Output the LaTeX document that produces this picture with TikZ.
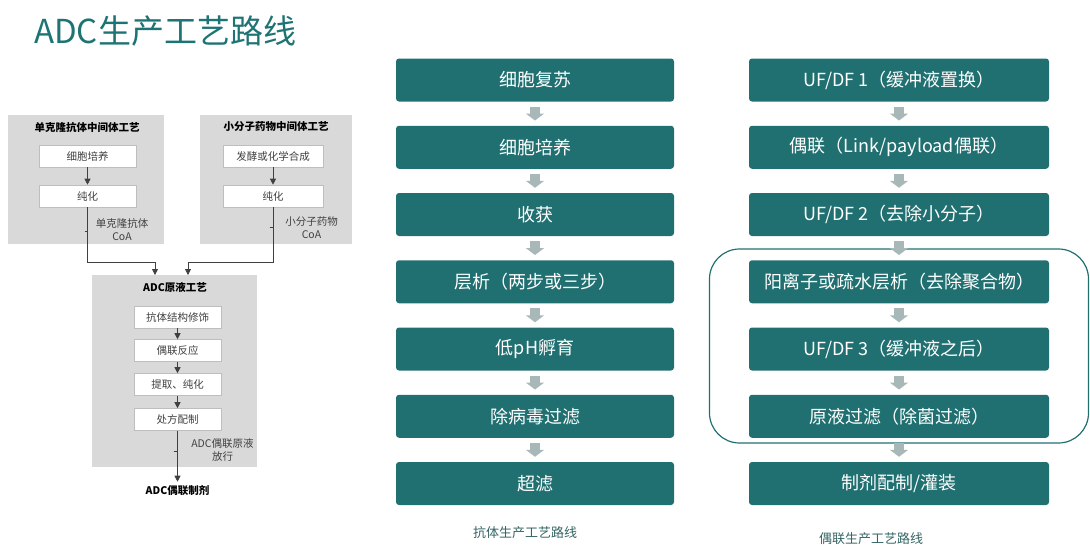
\documentclass[tikz,border=0pt]{standalone}
\usepackage{fontspec}
\setmainfont{Noto Sans CJK SC}
\usetikzlibrary{arrows.meta}
\definecolor{tealbox}{RGB}{33,112,113}
\definecolor{titleteal}{RGB}{30,115,116}
\definecolor{arrowgray}{RGB}{168,184,184}
\definecolor{panelgray}{RGB}{217,217,217}
\definecolor{wborder}{RGB}{190,190,190}
\definecolor{linegray}{RGB}{64,64,64}
\definecolor{captionteal}{RGB}{52,100,101}
\begin{document}
\begin{tikzpicture}[x=1pt,y=-1pt,
  mainbox/.style={fill=tealbox, rounded corners=3pt, minimum height=43pt, inner sep=0pt,
    text=white, font=\fontsize{18}{20}\selectfont},
  midbox/.style={mainbox, minimum width=278pt},
  rightbox/.style={mainbox, minimum width=300pt},
  blockarrow/.style={draw=arrowgray, line width=10pt, shorten <=5pt, shorten >=5pt,
    -{Triangle[width=18pt,length=7pt]}},
  panel/.style={fill=panelgray, inner sep=0pt},
  wbox/.style={fill=white, draw=wborder, line width=0.6pt, minimum height=22pt, inner sep=0pt,
    font=\fontsize{10.5}{12}\selectfont, text=linegray},
  ptitle/.style={font=\fontsize{10.5}{12}\selectfont\bfseries, text=black},
  plabel/.style={font=\fontsize{10.5}{13}\selectfont, text=linegray, align=center, inner sep=0pt},
  conn/.style={draw=linegray, line width=0.8pt, -{Triangle[width=6pt,length=6pt]}},
  tick/.style={draw=linegray, line width=0.6pt},
  caption/.style={font=\fontsize{13}{15}\selectfont, text=captionteal}
]
\useasboundingbox (0,0) rectangle (1090,555);

% title
\node[anchor=west, text=titleteal, font=\fontsize{33}{36}\selectfont, inner sep=0pt] (title) at (34,31) {ADC生产工艺路线};

% ---------------- left diagram ----------------
\node[panel, minimum width=156pt, minimum height=129pt] (pA) at (86,179.5) {};
\node[panel, minimum width=152pt, minimum height=129pt] (pB) at (276,179.5) {};
\node[panel, minimum width=165pt, minimum height=192pt] (pC) at (174.5,371) {};

\node[ptitle] (tA) at (87,127) {单克隆抗体中间体工艺};
\node[ptitle] (tB) at (276,127) {小分子药物中间体工艺};
\node[ptitle] (tC) at (175,287) {ADC原液工艺};

\node[wbox, minimum width=97pt] (a1) at (87.5,156) {细胞培养};
\node[wbox, minimum width=97pt] (a2) at (87.5,196) {纯化};
\node[wbox, minimum width=100pt] (b1) at (273,156) {发酵或化学合成};
\node[wbox, minimum width=100pt] (b2) at (273,196) {纯化};

\node[wbox, minimum width=87pt] (c1) at (177.5,317) {抗体结构修饰};
\node[wbox, minimum width=87pt] (c2) at (177.5,350.5) {偶联反应};
\node[wbox, minimum width=87pt] (c3) at (177.5,384.5) {提取、纯化};
\node[wbox, minimum width=87pt] (c4) at (177.5,419.5) {处方配制};

\draw[conn] (a1) -- (a2);
\draw[conn] (b1) -- (b2);
\draw[conn] (c1) -- (c2);
\draw[conn] (c2) -- (c3);
\draw[conn] (c3) -- (c4);

\coordinate (inA) at (155,275);
\coordinate (inB) at (188,275);
\draw[conn] (a2.south) -- (a2.south |- 0,262) -| (inA);
\draw[conn] (b2.south) -- (b2.south |- 0,262) -| (inB);

\node[ptitle, inner sep=2pt] (final) at (177.5,491) {ADC偶联制剂};
\draw[conn, shorten >=2pt] (c4.south) -- (final.north);

\draw[tick] (84.5,231) -- (87.5,231);
\draw[tick] (269.5,227) -- (273,227);
\draw[tick] (173.5,451) -- (177.5,451);

\node[plabel] (lA) at (122,229.5) {单克隆抗体\\CoA};
\node[plabel] (lB) at (311.5,228) {小分子药物\\CoA};
\node[plabel] (lC) at (222.5,450) {ADC偶联原液\\放行};

% ---------------- middle column ----------------
\node[midbox] (m1) at (535,80) {细胞复苏};
\node[midbox] (m2) at (535,147.25) {细胞培养};
\node[midbox] (m3) at (535,214.5) {收获};
\node[midbox] (m4) at (535,281.75) {层析（两步或三步）};
\node[midbox] (m5) at (535,349) {低pH孵育};
\node[midbox] (m6) at (535,416.25) {除病毒过滤};
\node[midbox] (m7) at (535,483.5) {超滤};
\foreach \i/\j in {1/2,2/3,3/4,4/5,5/6,6/7}
  \draw[blockarrow] (m\i) -- (m\j);

\node[caption] (capM) at (525,533) {抗体生产工艺路线};

% ---------------- right column ----------------
\draw[tealbox, line width=1.2pt, rounded corners=30pt] (709.5,249) rectangle (1088.5,443);

\node[rightbox] (r1) at (899,80) {UF/DF 1（缓冲液置换）};
\node[rightbox] (r2) at (899,147.25) {偶联（Link/payload偶联）};
\node[rightbox] (r3) at (899,214.5) {UF/DF 2（去除小分子）};
\node[rightbox] (r4) at (899,281.75) {阳离子或疏水层析（去除聚合物）};
\node[rightbox] (r5) at (899,349) {UF/DF 3（缓冲液之后）};
\node[rightbox] (r6) at (899,416.25) {原液过滤（除菌过滤）};
\node[rightbox] (r7) at (899,483.5) {制剂配制/灌装};
\foreach \i/\j in {1/2,2/3,3/4,4/5,5/6,6/7}
  \draw[blockarrow] (r\i) -- (r\j);

\node[caption] (capR) at (871,539) {偶联生产工艺路线};
\end{tikzpicture}
\end{document}
